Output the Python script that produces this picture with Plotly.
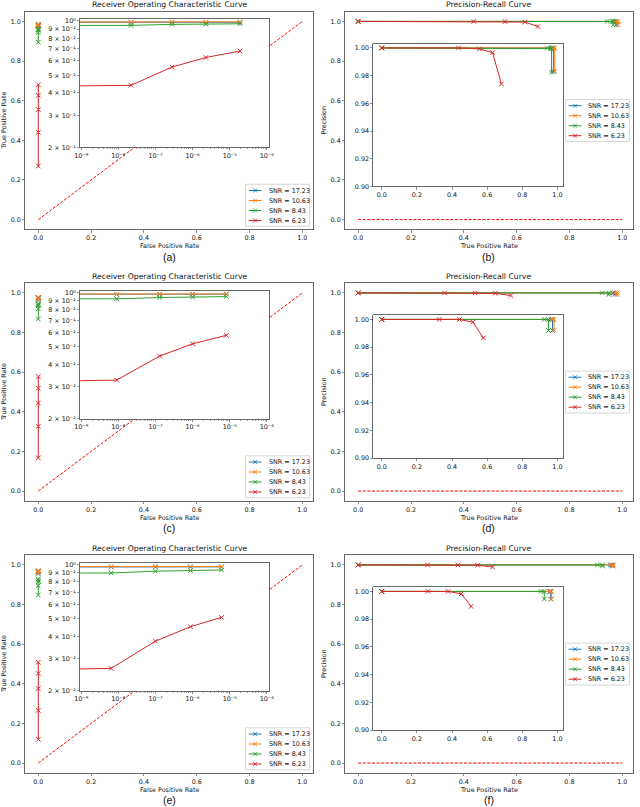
import math
import plotly.graph_objects as go

W, H = 640, 807

# ---------------- data ----------------
snr_labels = ["SNR = 17.23", "SNR = 10.63", "SNR = 8.43", "SNR = 6.23"]
colors = ["#1f77b4", "#ff7f0e", "#2ca02c", "#d62728"]
captions = ["(a)", "(b)", "(c)", "(d)", "(e)", "(f)"]
roc_title = "Receiver Operating Characteristic Curve"
pr_title = "Precision-Recall Curve"
roc_xlabel = "False Positive Rate"
roc_ylabel = "True Positive Rate"
pr_xlabel = "True Positive Rate"
pr_ylabel = "Precision"

chance_x = [0, 1]
chance_roc_y = [0, 1]
chance_pr_y = [0, 0]

main_ticks = [0.0, 0.2, 0.4, 0.6, 0.8, 1.0]
inset_roc_xticks = [1e-9, 1e-8, 1e-7, 1e-6, 1e-5, 1e-4]
inset_roc_xtext = ["10⁻⁹", "10⁻⁸", "10⁻⁷", "10⁻⁶", "10⁻⁵", "10⁻⁴"]
inset_roc_yticks = [0.2, 0.3, 0.4, 0.5, 0.6, 0.7, 0.8, 0.9, 1.0]
inset_roc_ytext = ["2 × 10⁻¹", "3 × 10⁻¹", "4 × 10⁻¹", "5 × 10⁻¹", "6 × 10⁻¹",
                   "7 × 10⁻¹", "8 × 10⁻¹", "9 × 10⁻¹", "10⁰"]
inset_pr_yticks = [0.90, 0.92, 0.94, 0.96, 0.98, 1.00]

# Row 1: (a) ROC, (b) PR   -- order: 17.23, 10.63, 8.43, 6.23
fpr_1 = [0, 2.2e-8, 2.8e-7, 2.3e-6, 1.9e-5]
tpr_1 = [
    [0.972, 0.978, 0.980, 0.981, 0.981],
    [0.975, 0.983, 0.985, 0.985, 0.986],
    [0.895, 0.943, 0.955, 0.958, 0.962],
    [0.270, 0.440, 0.555, 0.627, 0.680],
]
rec_1 = [
    [0, 0.969, 0.977, 0.977],
    [0, 0.975, 0.985, 0.985],
    [0, 0.943, 0.962, 0.966, 0.966],
    [0, 0.4375, 0.556, 0.631, 0.681],
]
prec_1 = [
    [1.0, 1.0, 1.0, 0.983],
    [1.0, 1.0, 1.0, 0.983],
    [1.0, 1.0, 0.9995, 0.9995, 0.9825],
    [1.0, 1.0, 0.9993, 0.9966, 0.974],
]

# Row 2: (c) ROC, (d) PR
fpr_2 = [0, 9e-9, 1.3e-7, 1.0e-6, 8.1e-6]
tpr_2 = [
    [0.962, 0.972, 0.974, 0.975, 0.976],
    [0.965, 0.975, 0.977, 0.977, 0.978],
    [0.868, 0.920, 0.935, 0.940, 0.946],
    [0.168, 0.327, 0.444, 0.519, 0.578],
]
rec_2 = [
    [0, 0.965, 0.972, 0.972],
    [0, 0.972, 0.981, 0.981],
    [0, 0.925, 0.949, 0.949],
    [0, 0.327, 0.443, 0.519, 0.578],
]
prec_2 = [
    [1.0, 1.0, 1.0, 0.992],
    [1.0, 1.0, 1.0, 0.992],
    [1.0, 1.0, 1.0, 0.992],
    [1.0, 1.0, 1.0, 0.998, 0.9867],
]

# Row 3: (e) ROC, (f) PR
fpr_3 = [0, 6.4e-9, 1.0e-7, 8.8e-7, 6.0e-6]
tpr_3 = [
    [0.955, 0.965, 0.966, 0.967, 0.967],
    [0.958, 0.968, 0.970, 0.970, 0.971],
    [0.848, 0.895, 0.915, 0.922, 0.930],
    [0.120, 0.266, 0.376, 0.452, 0.509],
]
rec_3 = [
    [0, 0.955, 0.962, 0.962],
    [0, 0.958, 0.966, 0.966],
    [0, 0.906, 0.925, 0.925],
    [0, 0.2625, 0.3775, 0.4525, 0.509],
]
prec_3 = [
    [1.0, 1.0, 1.0, 0.9945],
    [1.0, 1.0, 1.0, 0.9945],
    [1.0, 1.0, 1.0, 0.9945],
    [1.0, 1.0, 1.0, 0.9983, 0.9892],
]

rows_data = [(fpr_1, tpr_1, rec_1, prec_1),
             (fpr_2, tpr_2, rec_2, prec_2),
             (fpr_3, tpr_3, rec_3, prec_3)]

# ---------------- layout geometry (pixels) ----------------
cols = [(25.1, 312.9), (345.0, 632.8)]
rows = [(11.5, 229.5), (283.0, 501.0), (555.0, 773.0)]

FONT = "DejaVu Sans"
CAP_FONT = "Liberation Sans"
TXT = "#111111"
FRAME = "#444444"
TICK_SIZE = 6.4


def X(px):
    return px / W


def Y(py):
    return 1 - py / H


def axname(kind, n):
    return f"{kind}axis" if n == 1 else f"{kind}axis{n}"


def ref(kind, n):
    return kind if n == 1 else f"{kind}{n}"


def base_axis(**kw):
    d = dict(showline=True, mirror=True, linecolor=FRAME, linewidth=0.8,
             ticks="outside", ticklen=2.2, tickwidth=0.6, tickcolor=FRAME,
             tickfont=dict(family=FONT, size=TICK_SIZE, color=TXT),
             showgrid=False, zeroline=False, automargin=False, fixedrange=True)
    d.update(kw)
    return d


fig = go.Figure()
layout = dict(width=W, height=H, margin=dict(l=0, r=0, t=0, b=0),
              paper_bgcolor="white", plot_bgcolor="white", showlegend=False)
annotations = []
shapes = []


def text(x_px, y_px, s, size, family=FONT, angle=0, xanchor="center"):
    annotations.append(dict(x=X(x_px), y=Y(y_px), xref="paper", yref="paper",
                            text=s, showarrow=False, textangle=angle,
                            xanchor=xanchor, yanchor="middle",
                            font=dict(family=family, size=size, color=TXT)))


def add_legend(right_px, top_px):
    w, h = 64.0, 42.0
    bx0 = right_px - w
    shapes.append(dict(type="rect", xref="paper", yref="paper",
                       x0=X(bx0), x1=X(right_px), y0=Y(top_px + h), y1=Y(top_px),
                       line=dict(color="#cccccc", width=0.8),
                       fillcolor="rgba(255,255,255,0.85)", layer="above"))
    for i, (lab, c) in enumerate(zip(snr_labels, colors)):
        cy = top_px + 6.2 + i * 10.0
        lx0 = bx0 + 3.0
        lx1 = lx0 + 12.8
        mx = (lx0 + lx1) / 2
        shapes.append(dict(type="line", xref="paper", yref="paper",
                           x0=X(lx0), x1=X(lx1), y0=Y(cy), y1=Y(cy),
                           line=dict(color=c, width=1.0), layer="above"))
        s = 1.9
        path = (f"M {X(mx - s)},{Y(cy - s)} L {X(mx + s)},{Y(cy + s)} "
                f"M {X(mx - s)},{Y(cy + s)} L {X(mx + s)},{Y(cy - s)}")
        shapes.append(dict(type="path", xref="paper", yref="paper", path=path,
                           line=dict(color=c, width=0.9), layer="above"))
        text(lx1 + 5.0, cy, lab, TICK_SIZE, xanchor="left")


def series(n, xs, ys, c):
    fig.add_trace(go.Scatter(
        x=xs, y=ys, mode="lines+markers", xaxis=ref("x", n), yaxis=ref("y", n),
        line=dict(color=c, width=1.0),
        marker=dict(symbol="x-thin", size=4.5, line=dict(color=c, width=1.0)),
        hoverinfo="skip"))


def dashed(n, xs, ys):
    fig.add_trace(go.Scatter(
        x=xs, y=ys, mode="lines", xaxis=ref("x", n), yaxis=ref("y", n),
        line=dict(color="#ff0000", width=1.0, dash="3px,1.6px"), hoverinfo="skip"))


# main axes first (subplots 1..6), insets afterwards (7..12) so they sit on top
for r, (fpr, tpr, rec, prec) in enumerate(rows_data):
    top, bot = rows[r]
    for col in (0, 1):
        n = 2 * r + 1 + col
        x0, x1 = cols[col]
        layout[axname("x", n)] = base_axis(domain=[X(x0), X(x1)], range=[-0.05, 1.04],
                                           anchor=ref("y", n), tickvals=main_ticks,
                                           tickformat=".1f")
        layout[axname("y", n)] = base_axis(domain=[Y(bot), Y(top)], range=[-0.05, 1.05],
                                           anchor=ref("x", n), tickvals=main_ticks,
                                           tickformat=".1f")
        cx = (x0 + x1) / 2
        if col == 0:
            dashed(n, chance_x, chance_roc_y)
            for k in range(4):
                series(n, fpr, tpr[k], colors[k])
            text(cx, top - 6.6, roc_title, 7.7)
            text(cx, bot + 16.6, roc_xlabel, TICK_SIZE)
            text(x0 - 21.0, (top + bot) / 2, roc_ylabel, TICK_SIZE, angle=-90)
            add_legend(x1 - 3.2, bot - 3.2 - 42.0)
        else:
            dashed(n, chance_x, chance_pr_y)
            for k in range(4):
                series(n, rec[k], prec[k], colors[k])
            text(cx, top - 6.6, pr_title, 7.7)
            text(cx, bot + 16.6, pr_xlabel, TICK_SIZE)
            text(x0 - 21.0, (top + bot) / 2, pr_ylabel, TICK_SIZE, angle=-90)
            add_legend(x1 - 3.2, (top + bot) / 2 - 21.0)
        text(cx, bot + 27.2, captions[2 * r + col], 10.5, family=CAP_FONT)

minor_x = [k * 10.0 ** e for e in range(-9, -4) for k in range(2, 10)]

for r, (fpr, tpr, rec, prec) in enumerate(rows_data):
    top, bot = rows[r]
    # ROC inset (log-log)
    n = 7 + 2 * r
    ix0 = cols[0][0] + 55.0
    iy0 = top + 7.8
    layout[axname("x", n)] = base_axis(
        domain=[X(ix0), X(ix0 + 189.3)], type="log", range=[-9.03, -3.93],
        anchor=ref("y", n), tickvals=inset_roc_xticks, ticktext=inset_roc_xtext,
        minor=dict(tickmode="array", tickvals=minor_x, ticks="outside",
                   ticklen=1.3, tickwidth=0.5, tickcolor=FRAME))
    layout[axname("y", n)] = base_axis(
        domain=[Y(iy0 + 128.0), Y(iy0)], type="log",
        range=[math.log10(0.2), 0.008], anchor=ref("x", n),
        tickvals=inset_roc_yticks, ticktext=inset_roc_ytext)
    # zero false-positive rate lies at -infinity on a log axis: push it far left
    fpr_log = [v if v > 0 else 1e-100 for v in fpr]
    for k in range(4):
        series(n, fpr_log, tpr[k], colors[k])

    # PR inset (zoomed precision)
    n = 8 + 2 * r
    px0 = cols[1][0] + 28.3
    py0 = top + 32.0
    layout[axname("x", n)] = base_axis(
        domain=[X(px0), X(px0 + 189.4)], range=[-0.048, 1.03],
        anchor=ref("y", n), tickvals=main_ticks, tickformat=".1f")
    layout[axname("y", n)] = base_axis(
        domain=[Y(py0 + 143.0), Y(py0)], range=[0.90, 1.0032],
        anchor=ref("x", n), tickvals=inset_pr_yticks, tickformat=".2f")
    for k in range(4):
        series(n, rec[k], prec[k], colors[k])

layout["annotations"] = annotations
layout["shapes"] = shapes
fig.update_layout(**layout)
fig.write_html("out.html",
               config={"displayModeBar": False, "staticPlot": True},
               post_script="document.body.style.margin='0';"
                           "document.body.style.padding='0';")
